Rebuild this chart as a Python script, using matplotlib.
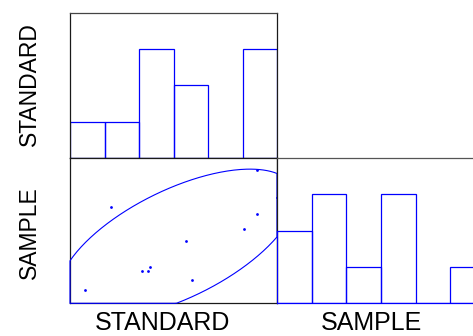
import numpy as np
import matplotlib
matplotlib.use("Agg")
import matplotlib.pyplot as plt

# ---- data (arbitrary units) ----
standard = [5.43, 1.18, 5.42, 5.03, 3.37, 2.31, 2.10, 2.27, 3.54, 0.44]
sample   = [5.50, 3.97, 3.68, 3.05, 2.59, 1.50, 1.35, 1.35, 0.98, 0.54]
bin_edges = [0, 1, 2, 3, 4, 5, 6]
count_max = 4
ellipse_p = 0.85
var_names = ["STANDARD", "SAMPLE"]

BLUE = "#0000ff"
W, H = 473, 336
fig = plt.figure(figsize=(W / 100, H / 100), dpi=100)
plt.rcParams['font.family'] = ['Liberation Sans', 'DejaVu Sans']


def px_axes(x0, y0, x1, y1):
    return fig.add_axes([x0 / W, 1 - y1 / H, (x1 - x0) / W, (y1 - y0) / H])


def clean(ax, color="#1a1a1a"):
    ax.set_xticks([])
    ax.set_yticks([])
    for s in ax.spines.values():
        s.set_color(color)
        s.set_linewidth(0.9)


lo, hi = bin_edges[0], bin_edges[-1]

# top-left: histogram of STANDARD
ax1 = px_axes(70, 12.7, 277, 158)
ax1.hist(standard, bins=bin_edges, fill=False, edgecolor=BLUE, linewidth=0.9)
ax1.set_xlim(lo, hi)
ax1.set_ylim(0, count_max)
clean(ax1)
ax1.spines['top'].set_color("#444444")

# bottom-left: scatter with confidence ellipse
ax2 = px_axes(70, 158, 277, 303.3)
ax2.plot(standard, sample, 'o', color=BLUE, markersize=2.0, markeredgewidth=0)
xy = np.vstack([standard, sample])
mu = xy.mean(axis=1)
cov = np.cov(xy)
k = np.sqrt(-2 * np.log(1 - ellipse_p))
L = np.linalg.cholesky(cov)
t = np.linspace(0, 2 * np.pi, 400)
ell = mu[:, None] + k * L @ np.vstack([np.cos(t), np.sin(t)])
ex = np.clip(ell[0], lo, hi)
ey = np.clip(ell[1], lo, hi)
ax2.plot(ex, ey, color=BLUE, linewidth=0.8, zorder=3, clip_on=False)
ax2.set_xlim(lo, hi)
ax2.set_ylim(lo, hi)
clean(ax2)

# bottom-right: histogram of SAMPLE (extends past the image edge)
ax3 = px_axes(277, 158, 485, 303.3)
ax3.hist(sample, bins=bin_edges, fill=False, edgecolor=BLUE, linewidth=0.9, zorder=3)
ax3.set_xlim(lo, hi)
ax3.set_ylim(0, count_max)
clean(ax3)
ax3.spines['top'].set_color("#555555")
ax3.spines['bottom'].set_color(BLUE)

# labels
fs_bottom = 18
fs_side = 16.5
fig.text(35.5 / W, 1 - 84.5 / H, var_names[0], rotation=90, rotation_mode='anchor',
         ha='center', va='baseline', fontsize=fs_side, color='black')
fig.text(35.5 / W, 1 - 233 / H, var_names[1], rotation=90, rotation_mode='anchor',
         ha='center', va='baseline', fontsize=fs_side, color='black')
fig.text(162 / W, 0.5 / H, var_names[0], ha='center', va='bottom',
         fontsize=fs_bottom, color='black')
fig.text(371 / W, 0.5 / H, var_names[1], ha='center', va='bottom',
         fontsize=fs_bottom, color='black')

fig.savefig("out.png", dpi=100)
